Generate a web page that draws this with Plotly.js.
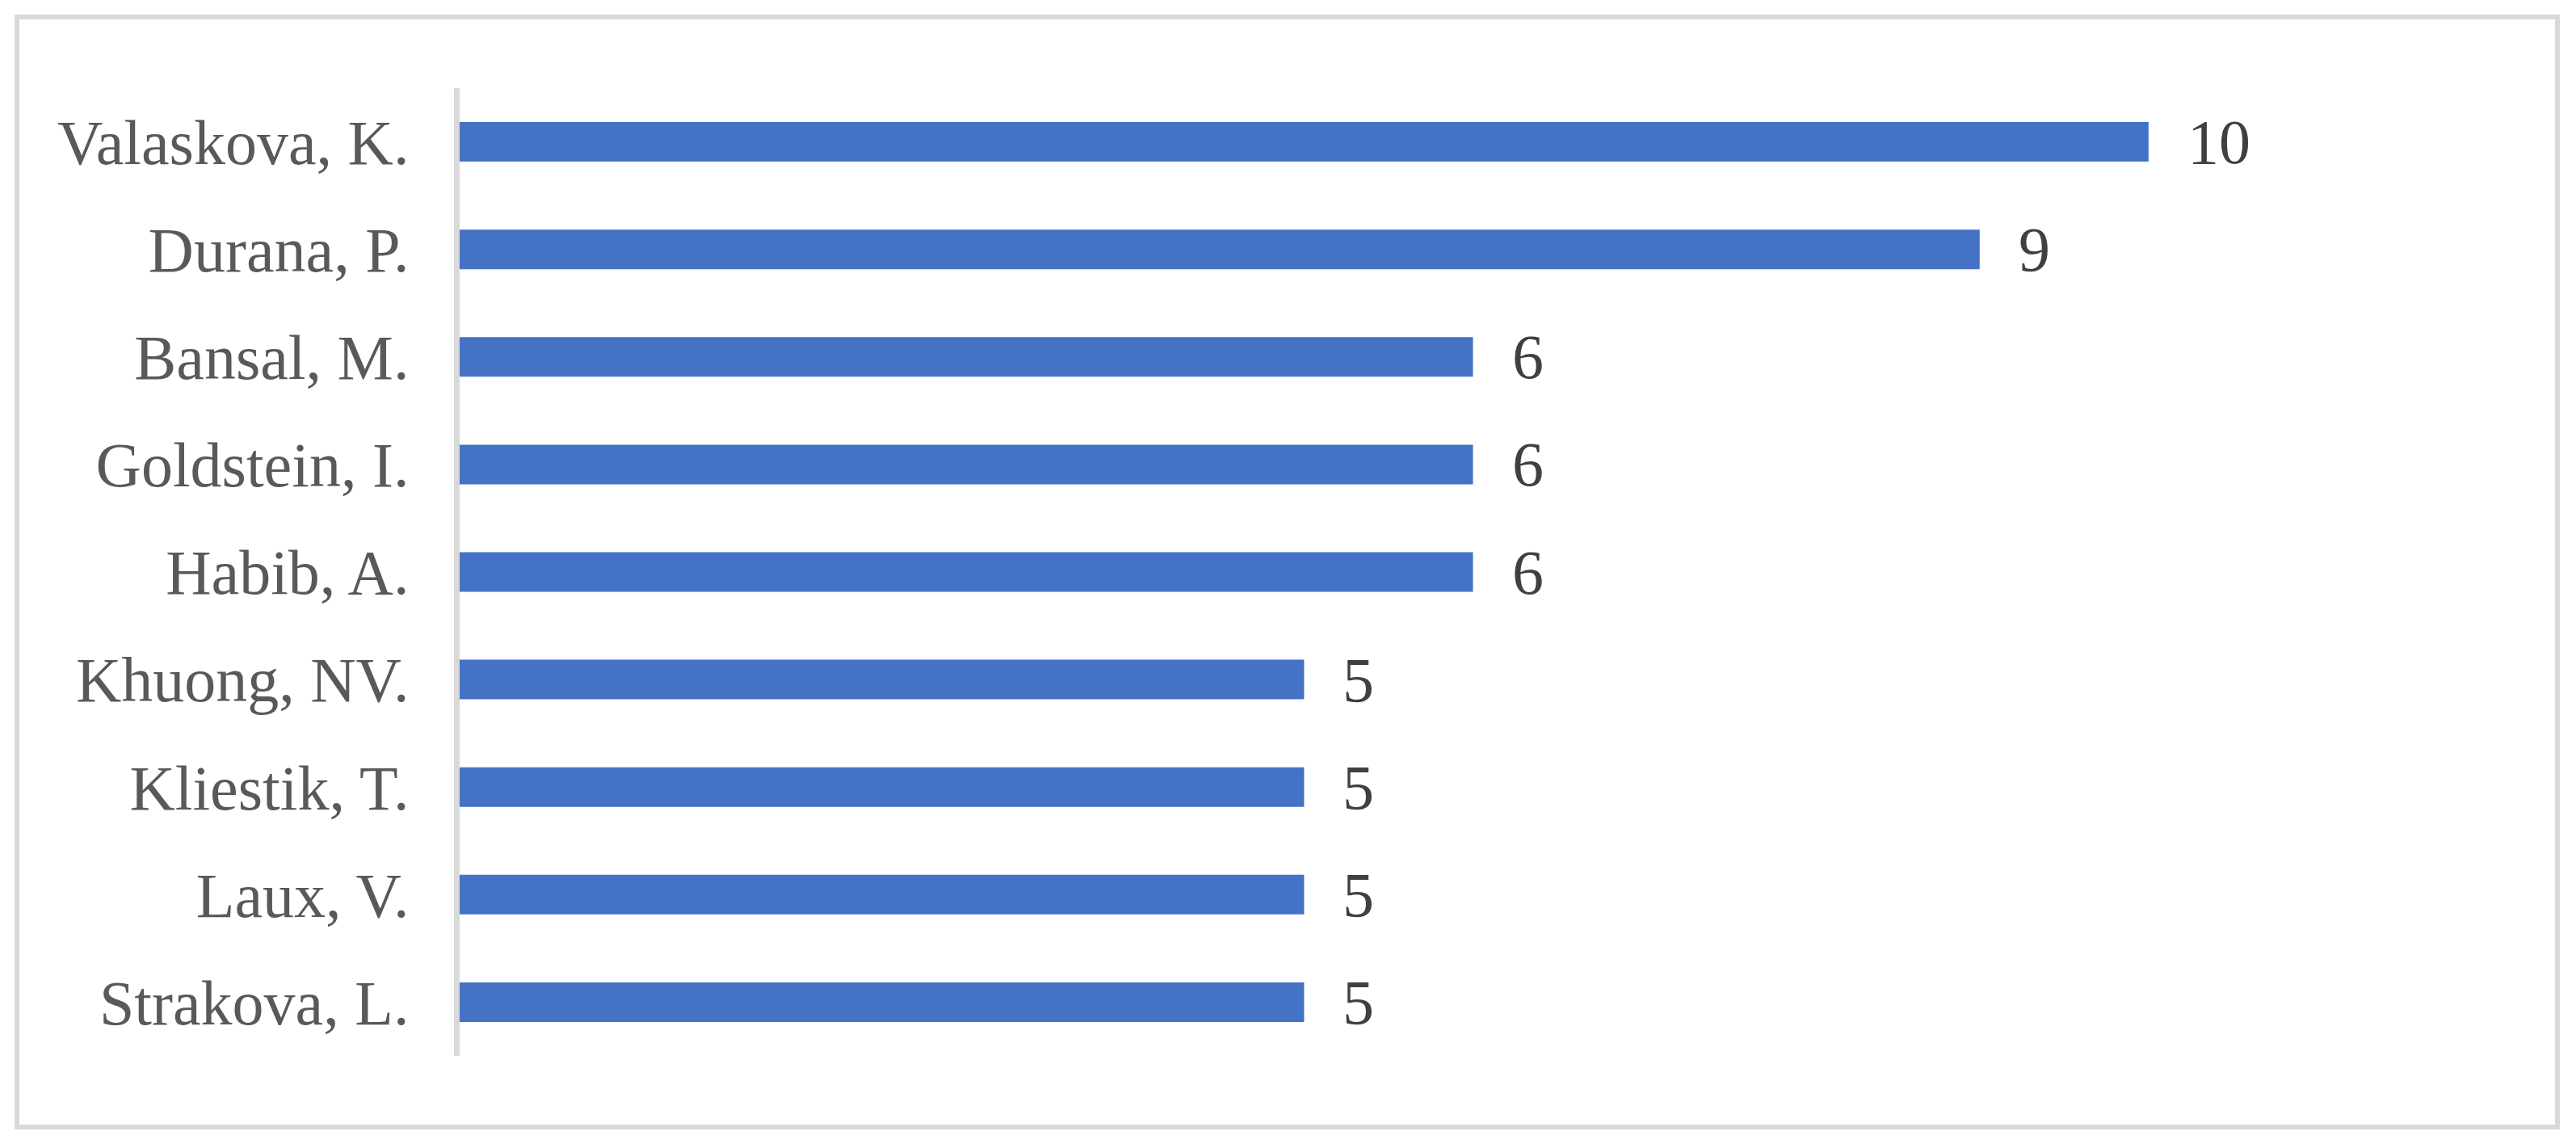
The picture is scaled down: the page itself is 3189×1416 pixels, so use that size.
<!DOCTYPE html>
<html>
<head>
<meta charset="utf-8">
<script src="https://cdn.plot.ly/plotly-2.35.2.min.js"></script>
<style>
  body { margin: 0; background: #fff; }
  #chart { width: 3189px; height: 1416px; }
</style>
</head>
<body>
<div id="chart"></div>
<script>
// authors and number of publications
var authors = ['Valaskova, K.', 'Durana, P.', 'Bansal, M.', 'Goldstein, I.', 'Habib, A.',
               'Khuong, NV.', 'Kliestik, T.', 'Laux, V.', 'Strakova, L.'];
var counts = [10, 9, 6, 6, 6, 5, 5, 5, 5];

var W = 3189, H = 1416;
var margin = {l: 569, r: 111, t: 109, b: 109};
var serif = 'Liberation Serif';

// pixel -> paper helpers for the outer frame
function px(x) { return (x - margin.l) / (W - margin.l - margin.r); }
function py(y) { return 1 - (y - margin.t) / (H - margin.t - margin.b); }

var trace1 = {
  x: counts,
  y: authors,
  type: 'bar',
  orientation: 'h',
  marker: {color: '#4472c4'},
  hoverinfo: 'none'
};

// value labels right of every bar
var labels = counts.map(function (v, i) {
  return {
    x: v, y: authors[i], xref: 'x', yref: 'y',
    text: String(v), showarrow: false,
    xanchor: 'left', xshift: 46,
    font: {family: serif, size: 78, color: '#404040'}
  };
});

var layout = {
  width: W,
  height: H,
  margin: margin,
  paper_bgcolor: '#fff',
  plot_bgcolor: '#fff',
  showlegend: false,
  bargap: 0.632,
  font: {family: serif},
  xaxis: {
    range: [0, 12],
    showgrid: false,
    zeroline: false,
    showline: false,
    showticklabels: false,
    ticks: ''
  },
  yaxis: {
    autorange: 'reversed',
    showgrid: false,
    zeroline: false,
    showline: true,
    linecolor: '#d9d9d9',
    linewidth: 7,
    ticks: '',
    ticklabelstandoff: 40,
    tickfont: {family: serif, size: 78, color: '#595959'}
  },
  annotations: labels,
  shapes: [{
    type: 'rect', xref: 'paper', yref: 'paper',
    x0: px(21), x1: px(3166), y0: py(21), y1: py(1395),
    line: {color: '#d9d9d9', width: 6},
    fillcolor: 'rgba(0,0,0,0)',
    layer: 'below'
  }]
};

Plotly.newPlot('chart', [trace1], layout, {displayModeBar: false, staticPlot: true});
</script>
</body>
</html>
